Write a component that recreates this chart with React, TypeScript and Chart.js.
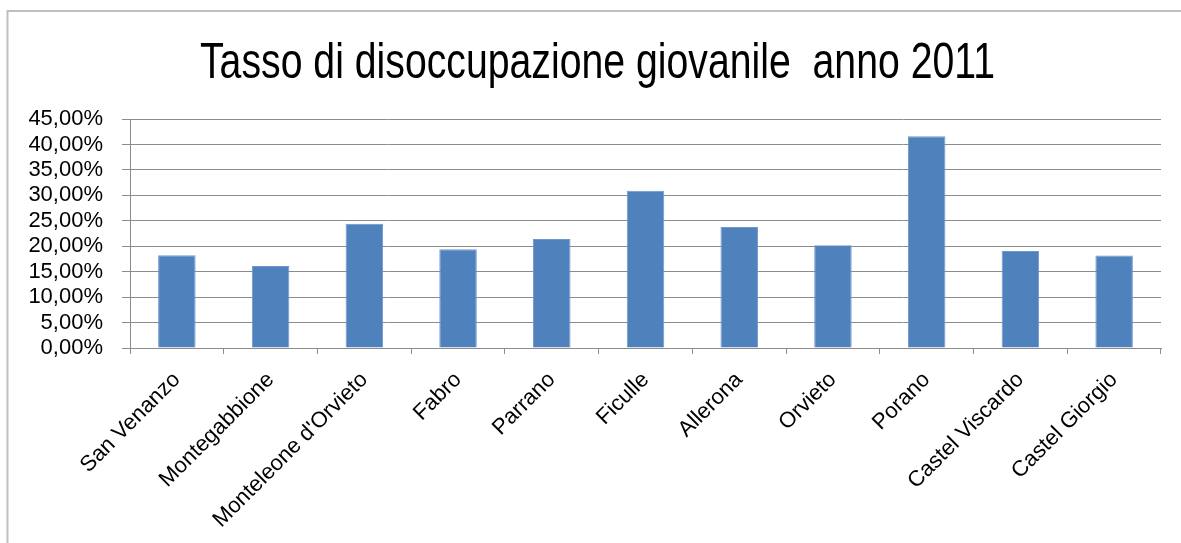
import React, { useEffect, useRef } from "react";
import { Chart, registerables } from "chart.js";

Chart.register(...registerables);

const TITLE = "Tasso di disoccupazione giovanile  anno 2011";
const categories = [
  "San Venanzo",
  "Montegabbione",
  "Monteleone d'Orvieto",
  "Fabro",
  "Parrano",
  "Ficulle",
  "Allerona",
  "Orvieto",
  "Porano",
  "Castel Viscardo",
  "Castel Giorgio",
];
const values = [18.25, 16.1, 24.4, 19.4, 21.4, 30.9, 23.8, 20.2, 41.6, 19.05, 18.2];
const yMin = 0;
const yMax = 45;
const yStep = 5;

const frameAndTitle = {
  id: "frameAndTitle",
  beforeDraw(chart: any) {
    const ctx = chart.ctx;
    ctx.save();
    ctx.fillStyle = "#ffffff";
    ctx.fillRect(0, 0, chart.width, chart.height);
    ctx.strokeStyle = "#bfbfbf";
    ctx.lineWidth = 2;
    ctx.beginPath();
    ctx.moveTo(7.5, chart.height);
    ctx.lineTo(7.5, 11);
    ctx.lineTo(chart.width, 11);
    ctx.stroke();
    // title
    ctx.font = '50px "Liberation Sans Narrow", "Liberation Sans", sans-serif';
    ctx.fillStyle = "#000000";
    ctx.textBaseline = "alphabetic";
    ctx.textAlign = "left";
    const w = ctx.measureText(TITLE).width;
    const target = 795;
    const sx = target / w;
    ctx.translate(200, 78);
    ctx.scale(sx, 1);
    ctx.fillText(TITLE, 0, 0);
    ctx.restore();
  },
};

export default function App() {
  const ref = useRef<HTMLCanvasElement | null>(null);
  useEffect(() => {
    document.body.style.margin = "0";
    if (!ref.current) return;
    const chart = new Chart(ref.current, {
      type: "bar",
      data: {
        labels: categories,
        datasets: [
          {
            data: values,
            backgroundColor: "#4F81BD",
            borderColor: "#6E98CC",
            borderWidth: 1,
            barPercentage: 0.4,
            categoryPercentage: 1.0,
          },
        ],
      },
      options: {
        animation: false,
        responsive: true,
        maintainAspectRatio: false,
        layout: { padding: { top: 119, right: 20, left: 0, bottom: 0 } },
        plugins: {
          legend: { display: false },
          title: { display: false },
          tooltip: { enabled: false },
        },
        scales: {
          x: {
            afterFit: (s: any) => {
              s.height = 195;
            },
            grid: {
              display: true,
              drawOnChartArea: false,
              drawTicks: true,
              tickLength: 6,
              color: "#8c8c8c",
              offset: true,
            },
            border: { display: true, color: "#8c8c8c", width: 1 },
            ticks: {
              autoSkip: false,
              minRotation: 45,
              maxRotation: 45,
              padding: 13,
              color: "#000000",
              font: { family: '"Liberation Sans", Arial, sans-serif', size: 22 },
            },
          },
          y: {
            min: yMin,
            max: yMax,
            afterFit: (s: any) => {
              s.width = 130;
            },
            grid: {
              color: "#8c8c8c",
              tickLength: 8,
              lineWidth: 1,
            },
            border: { display: true, color: "#8c8c8c", width: 1 },
            ticks: {
              autoSkip: false,
              stepSize: yStep,
              padding: 19,
              color: "#000000",
              font: { family: '"Liberation Sans", Arial, sans-serif', size: 22 },
              callback: (v: any) => Number(v).toFixed(2).replace(".", ",") + "%",
            },
          },
        },
      },
      plugins: [frameAndTitle],
    });
    return () => chart.destroy();
  }, []);
  return (
    <div style={{ width: "1181px", height: "543px", position: "relative" }}>
      <canvas ref={ref} />
    </div>
  );
}
